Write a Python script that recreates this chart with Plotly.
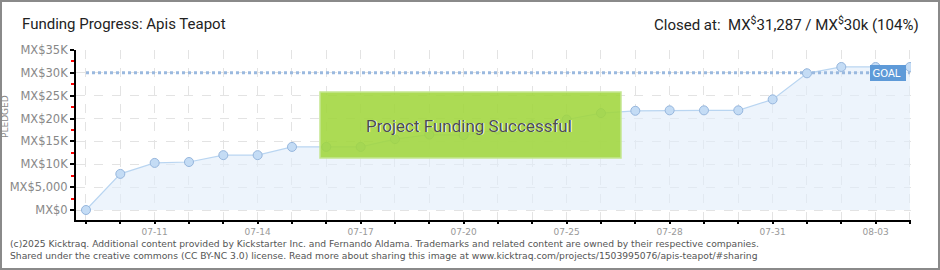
import plotly.graph_objects as go

# ---- data ----
dates = ["07-09", "07-10", "07-11", "07-12", "07-13", "07-14", "07-15", "07-16",
         "07-17", "07-18", "07-19", "07-20", "07-21", "07-23", "07-25", "07-26",
         "07-27", "07-28", "07-29", "07-30", "07-31", "08-01", "08-02", "08-03", "08-04"]
pledged = [0, 7900, 10300, 10500, 12000, 12000, 13800, 13800, 13800, 15500, 16500,
           16400, 17600, 18700, 19800, 21200, 21700, 21800, 21800, 21800, 24200,
           29900, 31287, 31287, 31287]
label_dates = ["07-11", "07-14", "07-17", "07-20", "07-25", "07-28", "07-31", "08-03"]
goal = 30000
y_tickvals = [0, 5000, 10000, 15000, 20000, 25000, 30000, 35000]
y_ticktext = ["MX$0", "MX$5,000", "MX$10K", "MX$15K", "MX$20K", "MX$25K", "MX$30K", "MX$35K"]

W, H = 940, 270
L, R, T, B = 76, 911, 50, 220  # plot area in pixels


def px(x):
    return (x - L) / (R - L)


def py(y):
    return (B - y) / (B - T)


fig = go.Figure()

# pledged area
fig.add_trace(go.Scatter(
    x=dates, y=pledged, mode="lines",
    line=dict(color="#b9d5f1", width=1.2),
    fill="tozeroy", fillcolor="rgba(225,237,250,0.6)",
    hoverinfo="skip", showlegend=False))

# goal line
fig.add_trace(go.Scatter(
    x=dates, y=[goal] * len(dates), mode="lines",
    line=dict(color="#9ab9df", width=3, dash="dot"),
    hoverinfo="skip", showlegend=False))

# markers on top
fig.add_trace(go.Scatter(
    x=dates, y=pledged, mode="markers",
    marker=dict(size=9, color="#c4dcf5", line=dict(color="#96b6dd", width=1)),
    showlegend=False))

ticktext = [d if d in label_dates else "" for d in dates]

fig.update_layout(
    width=W, height=H,
    margin=dict(l=L, r=W - R, t=T, b=H - B, autoexpand=False),
    paper_bgcolor="white", plot_bgcolor="white",
    xaxis=dict(
        type="category", categoryorder="array", categoryarray=dates,
        range=[-0.291, 24.03], automargin=False,
        tickmode="array", tickvals=dates, ticktext=ticktext,
        showgrid=True, gridcolor="#e3e3e3", griddash="dash", gridwidth=1,
        showline=True, linecolor="black", linewidth=2,
        ticks="outside", ticklen=2, tickcolor="black", tickwidth=2,
        tickfont=dict(family="DejaVu Sans", size=9, color="#999999"),
        fixedrange=True, zeroline=False),
    yaxis=dict(
        range=[-2187.5, 35000], automargin=False,
        tickmode="array", tickvals=y_tickvals, ticktext=y_ticktext,
        showgrid=True, gridcolor="#e3e3e3", griddash="dash", gridwidth=1,
        showline=True, linecolor="black", linewidth=2,
        ticks="outside", ticklen=4, tickcolor="black", tickwidth=2,
        minor=dict(dtick=2500, tick0=0, ticks="outside", ticklen=3,
                   tickcolor="red", tickwidth=2, showgrid=False),
        tickfont=dict(family="DejaVu Sans", size=11.5, color="#888888"),
        zeroline=False, fixedrange=True),
    font=dict(family="DejaVu Sans"),
)

shapes = []
# outer border
shapes.append(dict(type="rect", xref="paper", yref="paper",
                   x0=px(1), x1=px(939), y0=py(1), y1=py(269),
                   line=dict(color="#8a8a8a", width=2), fillcolor="rgba(0,0,0,0)"))
# success box
shapes.append(dict(type="rect", xref="paper", yref="paper",
                   x0=px(320), x1=px(621), y0=py(92), y1=py(158),
                   line=dict(color="#c4e690", width=1.5),
                   fillcolor="rgba(160,214,60,0.88)", layer="above"))
fig.update_layout(shapes=shapes)

ann = []
ann.append(dict(text="Funding Progress: Apis Teapot", xref="paper", yref="paper",
                x=px(20), y=py(24), xanchor="left", yanchor="middle", showarrow=False,
                font=dict(family="Roboto", size=15, color="#222222")))
ann.append(dict(text="Closed at:  MX<sup>$</sup>31,287 / MX<sup>$</sup>30k (104%)",
                xref="paper", yref="paper",
                x=px(921), y=py(24), xanchor="right", yanchor="middle", showarrow=False,
                font=dict(family="Roboto", size=15, color="#222222")))
ann.append(dict(text="PLEDGED", xref="paper", yref="paper", textangle=-90,
                x=px(5), y=py(117), xanchor="center", yanchor="middle", showarrow=False,
                font=dict(family="DejaVu Sans", size=9, color="#888888")))
ann.append(dict(text="GOAL ", xref="paper", yref="paper",
                x=px(888), y=py(73), xanchor="center", yanchor="middle", showarrow=False,
                bgcolor="#5e9ad8", bordercolor="#5e9ad8", borderpad=1.5,
                font=dict(family="DejaVu Sans", size=10, color="white")))
# shadow then text for success message
ann.append(dict(text="Project Funding Successful", xref="paper", yref="paper",
                x=px(469.5), y=py(126.5), xanchor="center", yanchor="middle", showarrow=False,
                font=dict(family="Roboto", size=17, color="white")))
ann.append(dict(text="Project Funding Successful", xref="paper", yref="paper",
                x=px(468.5), y=py(125.5), xanchor="center", yanchor="middle", showarrow=False,
                font=dict(family="Roboto", size=17, color="#4d4d4d")))
ann.append(dict(text="(c)2025 Kicktraq. Additional content provided by Kickstarter Inc. and Fernando Aldama. "
                     "Trademarks and related content are owned by their respective companies.",
                xref="paper", yref="paper", x=px(8), y=py(243), xanchor="left", yanchor="middle",
                showarrow=False, font=dict(family="DejaVu Sans", size=9.2, color="#555555")))
ann.append(dict(text="Shared under the creative commons (CC BY-NC 3.0) license. Read more about sharing this "
                     "image at www.kicktraq.com/projects/1503995076/apis-teapot/#sharing",
                xref="paper", yref="paper", x=px(8), y=py(256), xanchor="left", yanchor="middle",
                showarrow=False, font=dict(family="DejaVu Sans", size=9.2, color="#555555")))
fig.update_layout(annotations=ann)

fig.write_html("out.html")
